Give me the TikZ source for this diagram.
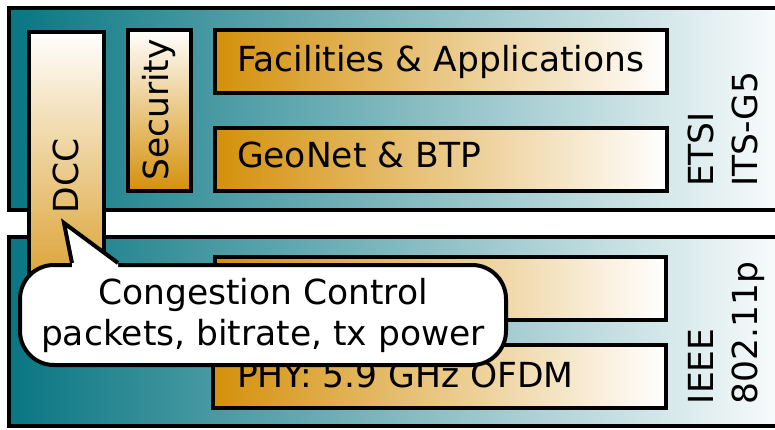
\documentclass[tikz,border=0pt]{standalone}
\usepackage{fontspec}
\setmainfont{DejaVu Sans}
\usetikzlibrary{positioning}

\definecolor{stackteal}{RGB}{8,118,130}
\definecolor{stackorange}{RGB}{212,144,10}

\begin{document}
\begin{tikzpicture}[
  x=1pt, y=-1pt,
  line width=4pt,
  layer/.style  = {draw=black, left color=stackteal, right color=white},
  hblock/.style = {draw=black, left color=stackorange, right color=white,
                   rectangle, inner sep=0pt},
  vblock/.style = {draw=black, top color=white, bottom color=stackorange,
                   rectangle, inner sep=0pt},
  lbl/.style    = {font=\fontsize{34.5}{44}\selectfont, inner sep=0pt},
  bubble/.style = {draw=black, fill=white, rectangle, rounded corners=34pt,
                   align=center, inner sep=0pt,
                   minimum width=486pt, minimum height=100pt,
                   font=\fontsize{34.5}{41}\selectfont}
]
\useasboundingbox (0,0) rectangle (775,430);
\clip (0,0) rectangle (775,430);

%── Schichten ─────────────────────────────────────────────────────────────
\draw[layer] (8.5,8.5) rectangle (800,210.5);
\draw[layer] (8.5,237) rectangle (800,426);

%── ETSI ITS-G5 ───────────────────────────────────────────────────────────
\node[vblock, minimum width=63pt, minimum height=161pt] (security)
  at (159.5,110.5) {};
\node[lbl, rotate=90] (security_txt) at (159,110) {Security};

\node[hblock, minimum width=452pt, minimum height=63pt] (facilities)
  at (441,61.5) {};
\node[lbl, anchor=base west] (facilities_txt) at (235,72)
  {Facilities \& Applications};

\node[hblock, minimum width=452pt, minimum height=63pt] (geonet)
  at (441,159.5) {};
\node[lbl, anchor=base west] (geonet_txt) at (235,168) {GeoNet \& BTP};

\node[lbl, rotate=90, align=left, anchor=base west] (etsi)
  at (757,189) {ETSI\\ITS-G5};

%── IEEE 802.11p ──────────────────────────────────────────────────────────
\node[hblock, minimum width=451pt, minimum height=63pt] (mac)
  at (440.5,288.5) {};

\node[hblock, minimum width=453pt, minimum height=63pt] (phy)
  at (439.5,376.5) {};
\node[lbl, anchor=base west] (phy_txt) at (235,387) {PHY: 5.9 GHz OFDM};

\node[lbl, rotate=90, align=left, anchor=base west] (ieee)
  at (757,406) {IEEE\\802.11p};

%── DCC (über beide Schichten) ────────────────────────────────────────────
\node[vblock, minimum width=75pt, minimum height=300pt, anchor=north]
  (dcc) at (66.5,30) {};
\node[lbl, rotate=90] (dcc_txt) at (66,176) {DCC};

%── Sprechblase ───────────────────────────────────────────────────────────
\node[bubble] (congestion) at (263,315)
  {Congestion Control\\packets, bitrate, tx power};
\coordinate (tip) at (64,223);
\coordinate (tip_l) at ([xshift=54pt]congestion.north west);
\coordinate (tip_r) at ([xshift=100pt]congestion.north west);
\fill[white] (tip_l) -- (tip) -- (tip_r) -- ([yshift=-8pt]tip_r)
  -- ([yshift=-8pt]tip_l) -- cycle;
\draw[line join=miter] (tip_l) -- (tip) -- (tip_r);

\end{tikzpicture}
\end{document}
